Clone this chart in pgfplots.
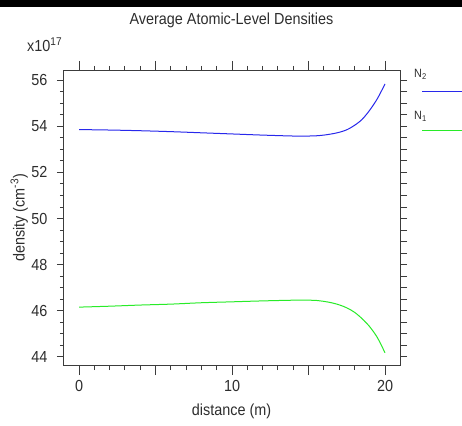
\documentclass[border=0pt]{standalone}
\usepackage{fontspec}
\setmainfont{Liberation Sans}[FakeStretch=0.9]
\usepackage{pgfplots}
\pgfplotsset{compat=1.18}
\definecolor{nblue}{RGB}{40,40,235}
\definecolor{ngreen}{RGB}{40,235,40}
\definecolor{frm}{RGB}{60,60,60}
\definecolor{txt}{RGB}{45,45,45}

\begin{document}
\fontsize{16bp}{19bp}\selectfont
\begin{tikzpicture}
\useasboundingbox (0bp,0bp) rectangle (462bp,426bp);
\fill[black] (0bp,419bp) rectangle (462bp,426bp);

% right-hand tick column (all ticks the same length)
\begin{axis}[
  at={(63bp,61bp)}, anchor=south west, scale only axis,
  width=337bp, height=294bp,
  xmin=-1.05, xmax=20.98, ymin=43.65, ymax=56.4,
  axis x line=none, axis y line*=right,
  ytick={44,44.5,...,56}, yticklabels={},
  tick align=outside, major tick length=7bp,
  axis line style={frm, line width=1bp},
  every tick/.style={frm, line width=1bp},
  ]
\end{axis}

\begin{axis}[
  at={(63bp,61bp)}, anchor=south west, scale only axis,
  width=337bp, height=294bp,
  xmin=-1.05, xmax=20.98, ymin=43.65, ymax=56.4,
  xtick={0,5,10,15,20}, xticklabels={0,,10,,20}, minor x tick num=4,
  ytick={44,46,...,56}, minor y tick num=3,
  xtick pos=both, ytick pos=left, tick align=outside,
  major tick length=10bp, minor tick length=5bp,
  ytick style={/pgfplots/major tick length=6bp, /pgfplots/minor tick length=3bp},
  axis line style={frm, line width=1bp},
  every tick/.style={frm, line width=1bp},
  tick label style={font=\fontsize{16bp}{19bp}\selectfont, txt},
  label style={font=\fontsize{16bp}{19bp}\selectfont, txt},
  /pgf/number format/assume math mode=true,
  xlabel={distance (m)},
  ylabel={density (cm\textsuperscript{-3})},
  xlabel style={at={(axis description cs:0.5,-0.156)}, anchor=center},
  ylabel style={at={(axis description cs:-0.13,0.5)}, anchor=center},
  title={Average Atomic-Level Densities},
  title style={at={(axis description cs:0.5,1.153)}, anchor=center, txt},
  clip=false,
  ]
\addplot[nblue, line width=1bp, smooth] coordinates {
  (0,53.86) (2,53.84) (4,53.81) (6,53.77) (8,53.72) (10,53.67) (12,53.62)
  (14,53.58) (15,53.58) (15.5,53.59) (16,53.62) (16.5,53.67) (17,53.74)
  (17.5,53.85) (18,54.04) (18.5,54.30) (19,54.70) (19.5,55.20) (20,55.84)};
\addplot[ngreen, line width=1bp, smooth] coordinates {
  (0,46.16) (2,46.20) (4,46.25) (6,46.29) (8,46.35) (10,46.39) (12,46.43)
  (14,46.46) (15,46.46) (15.5,46.45) (16,46.41) (16.5,46.35) (17,46.26)
  (17.5,46.13) (18,45.94) (18.5,45.66) (19,45.31) (19.5,44.84) (20,44.18)};
\end{axis}

\node[anchor=west, txt, inner sep=0pt] at (27bp,381bp) {x10\textsuperscript{17}};
% legend
\node[anchor=west, txt, inner sep=0pt, font=\fontsize{12bp}{14bp}\selectfont] at (414bp,352bp) {N\textsubscript{2}};
\draw[nblue, line width=1bp] (422bp,334.5bp) -- (462bp,334.5bp);
\node[anchor=west, txt, inner sep=0pt, font=\fontsize{12bp}{14bp}\selectfont] at (414bp,310bp) {N\textsubscript{1}};
\draw[ngreen, line width=1bp] (422bp,295.5bp) -- (462bp,295.5bp);
\end{tikzpicture}
\end{document}
